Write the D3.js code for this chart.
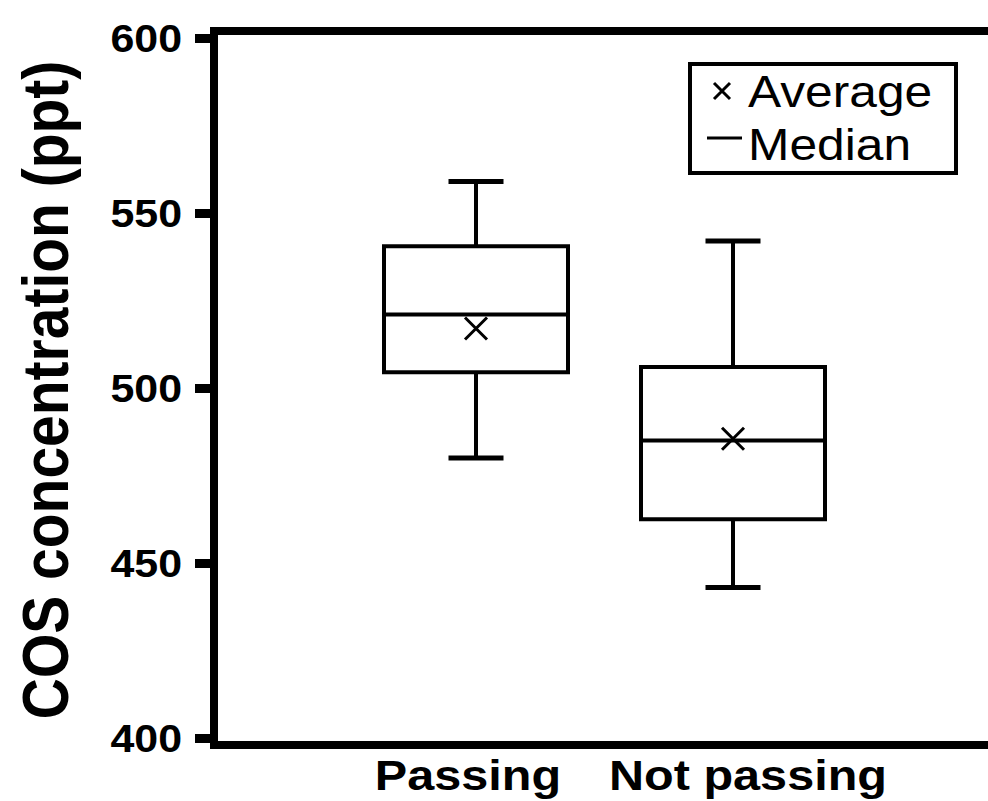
<!DOCTYPE html>
<html>
<head>
<meta charset="utf-8">
<script src="https://cdn.jsdelivr.net/npm/d3@7/dist/d3.min.js"></script>
<style>
  body { margin: 0; background: #fff; }
  text { font-family: "Liberation Sans", Arial, sans-serif; fill: #000; }
</style>
</head>
<body>
<div id="grafica"></div>
<script>
// datos
const categorias = ["Passing", "Not passing"];
const bigoteMin  = [480, 443];
const cuartil1   = [504.5, 462.5];
const mediana    = [521, 485];
const promedio   = [517, 485.5];
const cuartil3   = [540.5, 506];
const bigoteMax  = [559, 542];
const yTicks = [400, 450, 500, 550, 600];
const tituloY = "COS concentration (ppt)";
const leyenda = ["Average", "Median"];

// parametros de la grafica
const width = 988, height = 801;
const estirar = 1.13; // el texto original aparece estirado en horizontal
const anchoCaja = 184;
const anchoTapa = 55;

const svg = d3.select("#grafica").append("svg")
  .attr("width", width)
  .attr("height", height);

const yScale = d3.scaleLinear().domain([400, 600]).range([738, 38]);
const xScale = d3.scalePoint().domain(categorias).range([476, 733]);

// marco (sin borde derecho visible, se sale de la imagen)
svg.append("path")
  .attr("d", "M1000,31 H214 V745 H1000")
  .attr("fill", "none")
  .attr("stroke", "#000")
  .attr("stroke-width", 8);

// eje Y
const yAxis = d3.axisLeft(yScale).tickValues(yTicks).tickSize(19).tickPadding(0).tickFormat(d3.format("d"));
const gY = svg.append("g")
  .attr("transform", "translate(214,0)")
  .call(yAxis);
gY.select(".domain").remove();
gY.selectAll(".tick line").attr("stroke", "#000").attr("stroke-width", 9);
gY.selectAll(".tick text")
  .attr("x", null).attr("dy", null)
  .attr("text-anchor", "end")
  .attr("transform", `translate(-32,13) scale(${estirar},1)`)
  .style("font-family", "'Liberation Sans', Arial, sans-serif")
  .style("font-weight", "bold")
  .style("font-size", "38px");

// titulo eje Y
svg.append("text")
  .attr("transform", `translate(68,390) scale(${estirar},1) rotate(-90)`)
  .attr("text-anchor", "middle")
  .style("font-weight", "bold")
  .style("font-size", "57px")
  .text(tituloY);

// etiquetas eje X
const desplazar = [-8, 15];
svg.selectAll(".xlabel")
  .data(categorias).enter()
  .append("text")
  .attr("class", "xlabel")
  .attr("text-anchor", "middle")
  .attr("transform", (d, i) => `translate(${xScale(d) + desplazar[i]},790) scale(${estirar},1)`)
  .style("font-weight", "bold")
  .style("font-size", "43px")
  .text(d => d);

// cajas
const cajas = svg.selectAll(".caja")
  .data(categorias).enter()
  .append("g")
  .attr("class", "caja");

cajas.append("line")
  .attr("x1", d => xScale(d)).attr("x2", d => xScale(d))
  .attr("y1", (d, i) => yScale(bigoteMax[i]))
  .attr("y2", (d, i) => yScale(cuartil3[i]))
  .attr("stroke", "#000").attr("stroke-width", 4);
cajas.append("line")
  .attr("x1", d => xScale(d)).attr("x2", d => xScale(d))
  .attr("y1", (d, i) => yScale(cuartil1[i]))
  .attr("y2", (d, i) => yScale(bigoteMin[i]))
  .attr("stroke", "#000").attr("stroke-width", 4);

[bigoteMax, bigoteMin].forEach(arr => {
  cajas.append("line")
    .attr("x1", d => xScale(d) - anchoTapa / 2)
    .attr("x2", d => xScale(d) + anchoTapa / 2)
    .attr("y1", (d, i) => yScale(arr[i]))
    .attr("y2", (d, i) => yScale(arr[i]))
    .attr("stroke", "#000").attr("stroke-width", 5);
});

cajas.append("rect")
  .attr("x", d => xScale(d) - anchoCaja / 2)
  .attr("width", anchoCaja)
  .attr("y", (d, i) => yScale(cuartil3[i]))
  .attr("height", (d, i) => yScale(cuartil1[i]) - yScale(cuartil3[i]))
  .attr("fill", "#fff")
  .attr("stroke", "#000").attr("stroke-width", 4);

cajas.append("line")
  .attr("x1", d => xScale(d) - anchoCaja / 2)
  .attr("x2", d => xScale(d) + anchoCaja / 2)
  .attr("y1", (d, i) => yScale(mediana[i]))
  .attr("y2", (d, i) => yScale(mediana[i]))
  .attr("stroke", "#000").attr("stroke-width", 4);

// marcador del promedio (x)
const r = 11;
cajas.append("path")
  .attr("d", (d, i) => {
    const cx = xScale(d), cy = yScale(promedio[i]);
    return `M${cx - r},${cy - r}L${cx + r},${cy + r}M${cx - r},${cy + r}L${cx + r},${cy - r}`;
  })
  .attr("fill", "none")
  .attr("stroke", "#000").attr("stroke-width", 3);

// leyenda
const ley = svg.append("g").attr("class", "leyenda");
ley.append("rect")
  .attr("x", 690).attr("y", 64)
  .attr("width", 266).attr("height", 109)
  .attr("fill", "#fff")
  .attr("stroke", "#000").attr("stroke-width", 4);
ley.append("path")
  .attr("d", "M714,83L730,99M714,99L730,83")
  .attr("stroke", "#000").attr("stroke-width", 3);
ley.append("line")
  .attr("x1", 707).attr("x2", 742)
  .attr("y1", 138).attr("y2", 138)
  .attr("stroke", "#000").attr("stroke-width", 3);
ley.selectAll(".ltext")
  .data(leyenda).enter()
  .append("text")
  .attr("class", "ltext")
  .attr("transform", (d, i) => `translate(748,${107 + i * 53}) scale(${estirar},1)`)
  .style("font-size", "44px")
  .text(d => d);
</script>
</body>
</html>
